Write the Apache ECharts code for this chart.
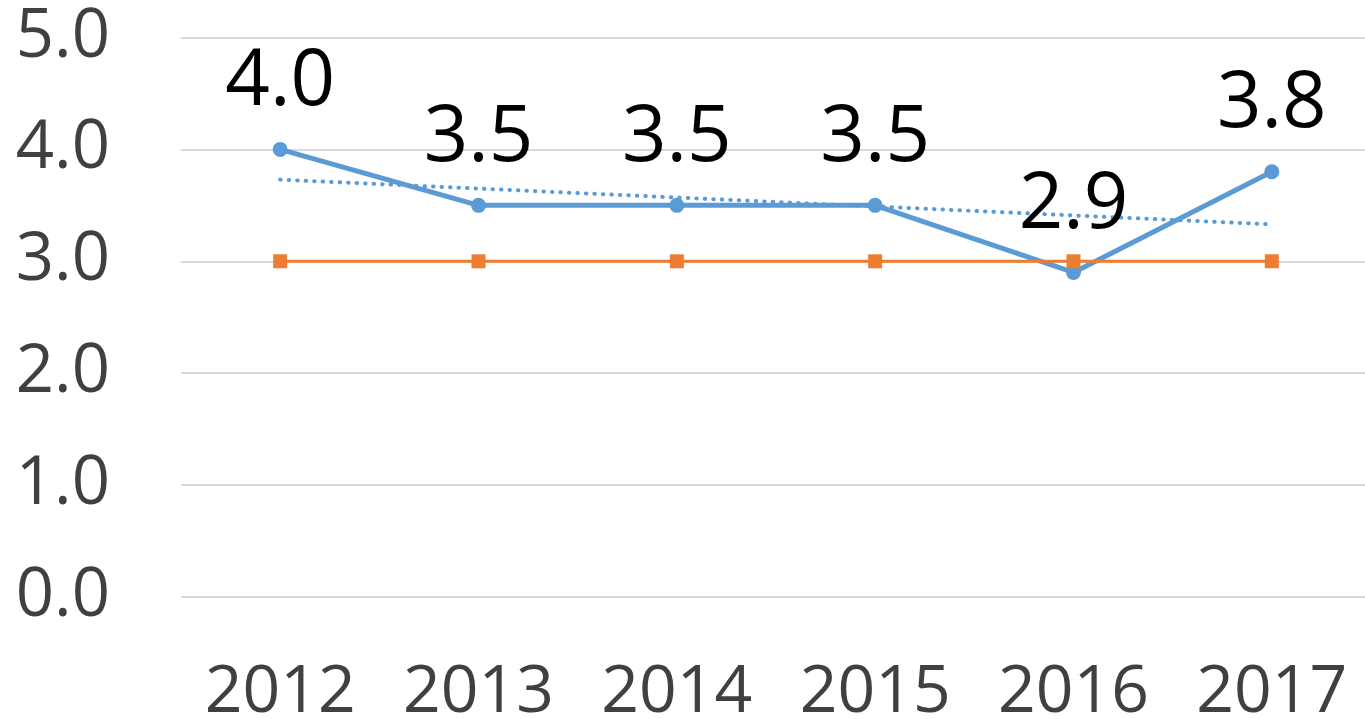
<!DOCTYPE html>
<html lang="en">
<head>
    <meta charset="UTF-8">
    <title>chart</title>
    <script src="https://cdn.jsdelivr.net/npm/echarts@6/dist/echarts.min.js"></script>
    <style>
        html, body { margin: 0; padding: 0; background: #fff; }
        #main { width: 1365px; height: 719px; }
    </style>
</head>
<body>
<div id="main"></div>
<script>
    var years = ['2012', '2013', '2014', '2015', '2016', '2017'];
    var actual = [4.0, 3.5, 3.5, 3.5, 2.9, 3.8];
    var target = [3.0, 3.0, 3.0, 3.0, 3.0, 3.0];
    // trend line end points, the middle is left open
    var trend = [3.73, null, null, null, null, 3.33];

    var chart = echarts.init(document.getElementById('main'));
    chart.setOption({
        animation: false,
        textStyle: { fontFamily: 'Open Sans' },
        grid: { left: 181, top: 37.5, width: 1190, height: 559.5, outerBoundsMode: 'none', containLabel: false },
        xAxis: {
            type: 'category',
            data: years,
            boundaryGap: true,
            axisLine: { show: false },
            axisTick: { show: false },
            axisLabel: { color: '#404040', fontSize: 66, margin: 63 }
        },
        yAxis: {
            type: 'value',
            min: 0,
            max: 5,
            interval: 1,
            axisLine: { show: false },
            axisTick: { show: false },
            splitLine: { lineStyle: { color: '#d9d9d9', width: 2 } },
            axisLabel: {
                color: '#404040',
                fontSize: 67,
                margin: 71,
                formatter: function (v) { return v.toFixed(1); }
            }
        },
        series: [{
            name: 'actual',
            type: 'line',
            data: actual,
            symbol: 'circle',
            symbolSize: 15,
            color: '#5b9bd5',
            lineStyle: { width: 5, color: '#5b9bd5' },
            label: {
                show: true,
                position: 'top',
                distance: 20,
                color: '#000',
                fontSize: 78,
                formatter: function (p) { return p.value.toFixed(1); }
            },
            z: 2
        }, {
            name: 'target',
            type: 'line',
            data: target,
            symbol: 'rect',
            symbolSize: 14,
            color: '#ed7d31',
            lineStyle: { width: 3, color: '#ed7d31' },
            z: 3
        }, {
            name: 'trend',
            type: 'line',
            data: trend,
            connectNulls: true,
            showSymbol: false,
            symbol: 'none',
            lineStyle: { width: 4, color: '#5b9bd5', type: [0.5, 8], cap: 'round' },
            z: 1
        }]
    });
</script>
</body>
</html>
